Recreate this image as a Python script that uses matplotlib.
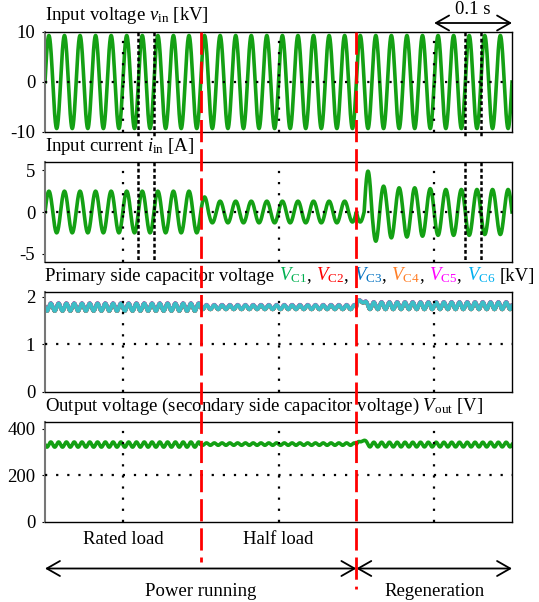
import numpy as np
import matplotlib
matplotlib.use("Agg")
import matplotlib.pyplot as plt
from matplotlib import transforms
from matplotlib.lines import Line2D

plt.rcParams['font.family'] = ['Liberation Serif', 'DejaVu Serif']
plt.rcParams['mathtext.fontset'] = 'custom'
plt.rcParams['mathtext.rm'] = 'Liberation Serif'
plt.rcParams['mathtext.it'] = 'Liberation Serif:italic'
plt.rcParams['font.size'] = 13.5
plt.rcParams['axes.unicode_minus'] = False

# ---- data ----
freq = 50.0                      # line frequency [Hz]
t_end = 0.6                      # [s]
seg_edges = [0.0, 0.2, 0.4, 0.6]  # rated load | half load | regeneration
seg_names = ['Rated load', 'Half load']
mode_names = ['Power running', 'Regeneration']

vin_peak = 9.3                   # [kV]

# input current: signed peak of every half cycle (60 half cycles) [A]
iin_peaks = [2.5, -2.5, 2.5, -2.5, 2.5, -2.5, 2.5, -2.5, 2.5, -2.5,
             2.5, -2.5, 2.5, -2.5, 2.5, -2.5, 2.5, -2.5, 2.5, -2.5,
             1.8, -1.3, 1.3, -1.3, 1.3, -1.3, 1.3, -1.3, 1.3, -1.3,
             1.3, -1.3, 1.3, -1.3, 1.3, -1.3, 1.3, -1.3, 1.3, -1.2,
             -1.2, 4.9, -3.5, 3.1, -3.1, 2.9, -3.0, 2.9, -2.9, 2.8,
             -2.8, 2.7, -2.8, 2.7, -2.8, 2.7, -2.7, 2.7, -2.7, 2.7]

# primary capacitor voltages [kV] (per segment) and 100 Hz ripple
vc_names = ['C1', 'C2', 'C3', 'C4', 'C5', 'C6']
vc_colors = ['#00B050', '#FF0000', '#0070C0', '#FF7F27', '#FF00FF', '#00B0F0']
vc_line_colors = ['#00B050', '#FF0000', '#0070C0', '#FF7F27', '#B060C0', '#3CBEC6']
vc_offsets = [0.0, 0.0, 0.0, 0.0, 0.01, 0.0]
vc_mean = [1.78, 1.78, 1.81]
vc_ripple = [0.08, 0.045, -0.075]
vc_bump = [(0.407, 0.15, 0.0035)]

# output voltage [V]
vout_mean = [333, 335, 333]
vout_ripple = [11, 5, -10]
vout_bump = [(0.408, 25, 0.0035)]

grid_t = [0.1, 0.3, 0.5]
mark_t = [0.12, 0.14, 0.54, 0.56]
red_t = [0.2, 0.4]

# ---- waveforms ----
t = np.linspace(0, t_end, 6001)
seg = np.minimum((t // 0.2).astype(int), 2)
v_in = vin_peak * np.sin(2 * np.pi * freq * t)
hc = np.minimum((t // (0.5 / freq)).astype(int), len(iin_peaks) - 1)
i_in = np.abs(np.sin(2 * np.pi * freq * t)) * np.array(iin_peaks)[hc]
rip = -np.sin(4 * np.pi * freq * t)


def with_bumps(mean, ripple, bumps):
    y = np.array(mean)[seg] + np.array(ripple)[seg] * rip
    for tc, h, w in bumps:
        y = y + h * np.exp(-((t - tc) / w) ** 2)
    return y


v_c = with_bumps(vc_mean, vc_ripple, vc_bump)
v_out = with_bumps(vout_mean, vout_ripple, vout_bump)

# ---- figure ----
W, H = 539, 602
fig = plt.figure(figsize=(W / 100, H / 100), dpi=100)
left, width = 45 / W, 467 / W
tops = [32, 162, 292, 422]
axes = [fig.add_axes([left, 1 - (tp + 100) / H, width, 100 / H]) for tp in tops]

green = '#14A014'
dot = dict(color='black', lw=1.6, ls=(0, (1, 4)), zorder=3)

ylims = [(-10, 10), (-6, 6), (0, 2.1), (0, 430)]
yticks = [[-10, 0, 10], [-5, 0, 5], [0, 1, 2], [0, 200, 400]]
hgrid = [0, 0, 1, 200]

for ax, yl, yt, hg in zip(axes, ylims, yticks, hgrid):
    ax.set_xlim(0, t_end)
    ax.set_ylim(*yl)
    ax.set_yticks(yt)
    ax.set_xticks([])
    ax.tick_params(axis='y', length=2, pad=5, labelsize=13.5)
    for sp in ax.spines.values():
        sp.set_linewidth(1.0)
    ax.spines['left'].set_color('#777777')
    ax.spines['left'].set_linewidth(1.5)
    ax.axhline(hg, **dot)
    for g in grid_t:
        ax.axvline(g, **dot)

axes[0].plot(t, v_in, color=green, lw=2.6, zorder=2)
axes[1].plot(t, i_in, color=green, lw=2.6, zorder=2)
for off, c in zip(vc_offsets, vc_line_colors):
    axes[2].plot(t, v_c + off, color=c, lw=2.6, zorder=2)
axes[3].plot(t, v_out, color=green, lw=2.6, zorder=2)

# titles
ty = 1.115
axes[0].text(0, ty, r'Input voltage $v_{\mathrm{in}}$ [kV]', transform=axes[0].transAxes, va='baseline')
axes[1].text(0, ty, r'Input current $i_{\mathrm{in}}$ [A]', transform=axes[1].transAxes, va='baseline')
axes[3].text(0, ty, r'Output voltage (secondary side capacitor voltage) $V_{\mathrm{out}}$ [V]',
             transform=axes[3].transAxes, va='baseline')

parts = [('Primary side capacitor voltage ', 'black')]
for i, (n, c) in enumerate(zip(vc_names, vc_colors)):
    parts.append((r'$V_{\mathrm{%s}}$' % n, c))
    parts.append((', ' if i < len(vc_names) - 1 else ' ', 'black'))
parts.append(('[kV]', 'black'))
renderer = fig.canvas.get_renderer()
tr = axes[2].transAxes
for s, c in parts:
    txt = axes[2].text(0, ty, s, color=c, transform=tr, va='baseline')
    txt.draw(renderer)
    ex = txt.get_window_extent(renderer)
    tr = transforms.offset_copy(txt.get_transform(), x=ex.width, units='dots')

# marker lines across panels 1-2 (broken where the current title sits)
bt = transforms.blended_transform_factory(axes[0].transData, fig.transFigure)
for m in mark_t:
    for y0, y1 in [(32, 136), (162, 262)]:
        fig.add_artist(Line2D([m, m], [1 - y0 / H, 1 - y1 / H], transform=bt,
                              color='black', lw=1.8, ls=(0, (1.5, 1)), zorder=5))

# red dashed lines
red_bottom = [562, 589]
for r, b in zip(red_t, red_bottom):
    fig.add_artist(Line2D([r, r], [1 - 32 / H, 1 - b / H], transform=bt,
                          color='red', lw=2.0, ls=(0, (8, 2.5)), zorder=6))

arrow = dict(arrowstyle='<->,head_length=0.7,head_width=0.4', lw=1.3, color='black',
             shrinkA=0, shrinkB=0)

# 0.1 s scale arrow
axes[0].annotate('', xy=(0.5, 1 - 23 / H), xytext=(0.6, 1 - 23 / H),
                 xycoords=('data', 'figure fraction'), textcoords=('data', 'figure fraction'),
                 arrowprops=arrow)
axes[0].annotate('0.1 s', xy=(0.55, 1 - 10 / H), xycoords=('data', 'figure fraction'),
                 ha='center', va='center')

# bottom annotations
ax = axes[3]
for name, a, b in zip(seg_names, seg_edges[:-1], seg_edges[1:]):
    ax.annotate(name, xy=((a + b) / 2, 1 - 539 / H), xycoords=('data', 'figure fraction'),
                ha='center', va='center')
mode_edges = [(0.0, 0.4), (0.4, 0.6)]
for name, (a, b) in zip(mode_names, mode_edges):
    ax.annotate('', xy=(a, 1 - 568.5 / H), xytext=(b, 1 - 568.5 / H),
                xycoords=('data', 'figure fraction'), textcoords=('data', 'figure fraction'),
                arrowprops=arrow)
    ax.annotate(name, xy=((a + b) / 2, 1 - 592 / H), xycoords=('data', 'figure fraction'),
                ha='center', va='center')

fig.savefig('out.png', dpi=100)
